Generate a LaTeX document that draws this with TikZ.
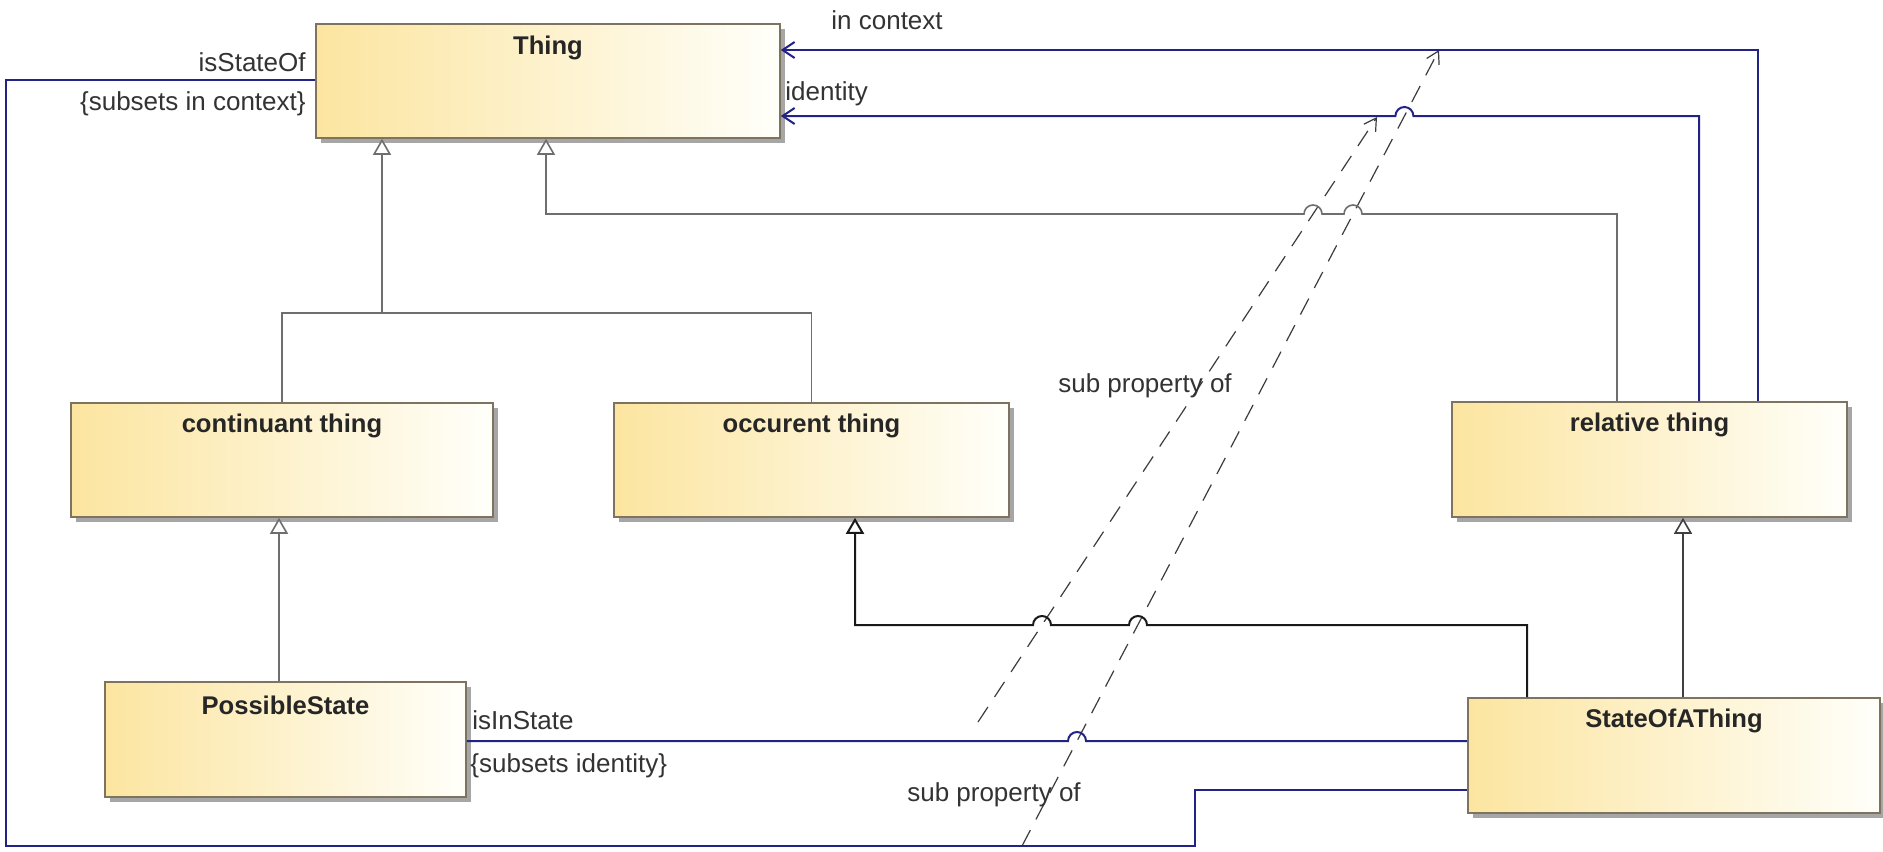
\documentclass[tikz,border=0pt]{standalone}
\usepackage{fontspec}
\setmainfont{Liberation Sans}
\usetikzlibrary{arrows.meta,shadows,calc}
\definecolor{boxL}{RGB}{252,229,160}
\definecolor{boxR}{RGB}{255,255,250}
\definecolor{boxE}{RGB}{125,115,95}
\definecolor{assoc}{RGB}{35,35,135}
\definecolor{genc}{RGB}{110,110,110}
\definecolor{dashc}{RGB}{60,60,60}
\tikzset{
 cls/.style={draw=boxE, line width=0.8pt, left color=boxL, right color=boxR,
   drop shadow={shadow xshift=2.5pt, shadow yshift=-2.5pt, fill=black!35, opacity=1}, inner sep=0pt},
 title/.style={font=\bfseries\fontsize{12.8}{15}\selectfont, inner sep=0pt, text=black!85},
 lbl/.style={font=\fontsize{13}{15}\selectfont, inner sep=0pt, text=black!80},
 genline/.style={draw=genc, line width=0.8pt},
 gentip/.style={-{Triangle[open, length=8pt, width=9pt, fill=white]}},
 blackline/.style={draw=black!90, line width=1pt},
 assocline/.style={draw=assoc, line width=1pt},
 assoctip/.style={-{Straight Barb[length=6pt, width=8pt]}},
 subprop/.style={draw=dashc, line width=0.6pt, dash pattern=on 9pt off 6pt, -{Straight Barb[length=6pt,width=7pt]}},
}
\begin{document}
\begin{tikzpicture}[x=0.5pt,y=-0.5pt]
\fill[white] (0,0) rectangle (1883,851);
\useasboundingbox (0,0) rectangle (1883,851);

% classes
\node[cls, minimum width=232pt, minimum height=57pt] (thing) at (548,81) {};
\node[cls, minimum width=211pt, minimum height=57pt] (cont) at (282,460) {};
\node[cls, minimum width=197.5pt, minimum height=57pt] (occ) at (811.5,460) {};
\node[cls, minimum width=197.5pt, minimum height=57.5pt] (rel) at (1649.5,459.5) {};
\node[cls, minimum width=180.5pt, minimum height=57.5pt] (ps) at (285.5,739.5) {};
\node[cls, minimum width=206pt, minimum height=57.5pt] (sat) at (1674,755.5) {};

\node[title] (thingT) at ($(thing.north)+(0,25)$) {Thing};
\node[title] (contT) at ($(cont.north)+(0,24)$) {continuant thing};
\node[title] (occT) at ($(occ.north)+(0,24)$) {occurent thing};
\node[title] (relT) at ($(rel.north)+(0,24)$) {relative thing};
\node[title] (psT) at ($(ps.north)+(0,24)$) {PossibleState};
\node[title] (satT) at ($(sat.north)+(0,24)$) {StateOfAThing};

% helper coordinates
\coordinate (c279) at (279,0);
\coordinate (c382) at (382,0);
\coordinate (c546) at (546,0);
\coordinate (c855) at (855,0);
\coordinate (c1527) at (1527,0);
\coordinate (c1617) at (1617,0);
\coordinate (c1683) at (1683,0);
\coordinate (c1699) at (1699,0);
\coordinate (c1758) at (1758,0);
\coordinate (y50) at (0,50);
\coordinate (y80) at (0,80);
\coordinate (y116) at (0,116);
\coordinate (y741) at (0,741);
\coordinate (y790) at (0,790);

% sub property of (dashed)
\coordinate (d1s) at (978,722);
\coordinate (d1e) at (1377,117);
\coordinate (d2s) at (1022,846);
\coordinate (d2e) at (1439,50);
\draw[subprop] (d1s) -- (d1e);
\draw[subprop] (d2s) -- (d2e);

% generalizations
\draw[genline] (cont.north) |- (382,313) coordinate (jn) -| (occ.north);
\draw[genline, gentip] (jn) -- (thing.south -| c382);
\draw[genline, gentip] (rel.north -| c1617) -- (1617,214) -- (1362,214)
   arc[start angle=0, end angle=-180, radius=9] -- (1322,214)
   arc[start angle=0, end angle=-180, radius=9] -- (546,214) -- (thing.south -| c546);
\draw[genline, gentip] (ps.north -| c279) -- (cont.south -| c279);
\draw[genline, gentip, draw=black!75] (sat.north -| c1683) -- (rel.south -| c1683);
\draw[blackline, gentip] (sat.north -| c1527) -- (1527,625) -- (1147,625)
   arc[start angle=0, end angle=-180, radius=9] -- (1051,625)
   arc[start angle=0, end angle=-180, radius=9] -- (855,625) -- (occ.south -| c855);

% associations
\draw[assocline, assoctip] (rel.north -| c1758) |- (thing.east |- y50);
\draw[assocline, assoctip] (rel.north -| c1699) -- (1699,116) -- (1413.4,116)
   arc[start angle=0, end angle=-180, radius=9] -- (thing.east |- y116);
\draw[assocline] (thing.west |- y80) -- (6,80) -- (6,846) -- (1195,846) -- (1195,790) -- (sat.west |- y790);
\draw[assocline] (ps.east |- y741) -- (1068,741)
   arc[start angle=180, end angle=360, radius=9] -- (sat.west |- y741);

% labels
\node[lbl, anchor=east] (isStateOf) at (306,62) {isStateOf};
\node[lbl, anchor=east] (subCtx) at (306,104) {\{subsets in context\}};
\node[lbl, anchor=west] (inCtx) at (831,20) {in context};
\node[lbl, anchor=west] (ident) at (785,94) {identity};
\node[lbl, anchor=west] (isIn) at (472,720) {isInState};
\node[lbl, anchor=west] (subId) at (470,766) {\{subsets identity\}};
\node[lbl] (sp1) at (1145,386) {sub property of};
\node[lbl] (sp2) at (994,795) {sub property of};
\end{tikzpicture}
\end{document}
